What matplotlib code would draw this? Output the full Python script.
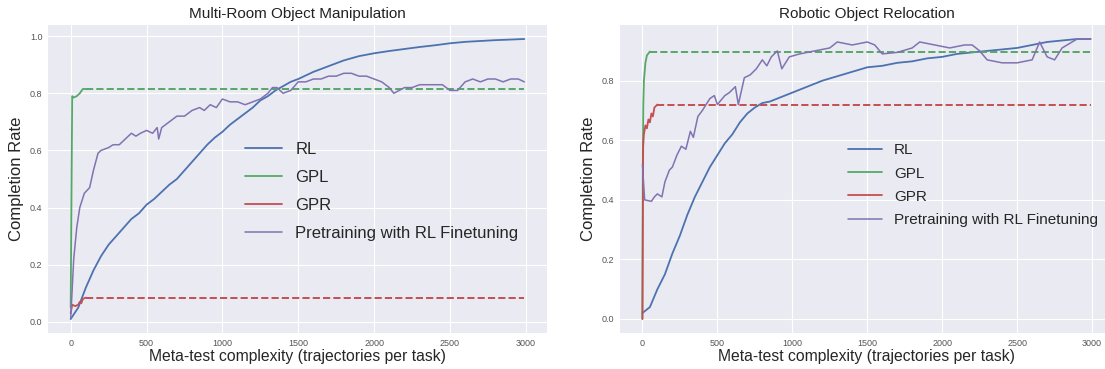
import matplotlib
matplotlib.use("Agg")
import matplotlib.pyplot as plt

plt.style.use("seaborn-v0_8-darkgrid")
plt.rcParams['font.family'] = ['Liberation Sans', 'DejaVu Sans']

# --- Multi-Room Object Manipulation ---
mr_rl_x = [0, 50, 100, 150, 200, 250, 300, 350, 400, 450, 500, 550, 600, 650, 700, 750, 800, 850, 900,
           950, 1000, 1050, 1100, 1150, 1200, 1250, 1300, 1350, 1400, 1450, 1500, 1600, 1700, 1800,
           1900, 2000, 2100, 2200, 2300, 2400, 2500, 2600, 2700, 2800, 2900, 2990]
mr_rl_y = [0.01, 0.05, 0.12, 0.18, 0.23, 0.27, 0.30, 0.33, 0.36, 0.38, 0.41, 0.43, 0.455, 0.48, 0.50,
           0.53, 0.56, 0.59, 0.62, 0.645, 0.665, 0.69, 0.71, 0.73, 0.75, 0.775, 0.79, 0.81, 0.825, 0.84,
           0.85, 0.875, 0.895, 0.915, 0.93, 0.94, 0.948, 0.955, 0.962, 0.968, 0.975, 0.98, 0.983, 0.986,
           0.988, 0.99]

mr_pre_x = [0, 20, 40, 60, 90, 125, 150, 180, 200, 250, 280, 320, 360, 400, 430, 460, 500, 540, 570,
            580, 600, 650, 700, 750, 800, 850, 880, 920, 960, 1000, 1050, 1100, 1150, 1200, 1250,
            1300, 1330, 1360, 1400, 1450, 1500, 1550, 1600, 1650, 1700, 1750, 1800, 1850, 1900,
            1950, 2000, 2050, 2100, 2130, 2200, 2250, 2300, 2350, 2400, 2450, 2500, 2550, 2600,
            2650, 2700, 2750, 2800, 2850, 2900, 2950, 2990]
mr_pre_y = [0.01, 0.22, 0.33, 0.40, 0.45, 0.47, 0.53, 0.59, 0.60, 0.61, 0.62, 0.62, 0.64, 0.66, 0.65,
            0.66, 0.67, 0.66, 0.68, 0.64, 0.68, 0.70, 0.72, 0.72, 0.74, 0.75, 0.74, 0.76, 0.75, 0.78,
            0.77, 0.77, 0.76, 0.77, 0.78, 0.80, 0.82, 0.82, 0.80, 0.81, 0.84, 0.84, 0.85, 0.85, 0.86,
            0.86, 0.87, 0.87, 0.86, 0.86, 0.85, 0.84, 0.82, 0.80, 0.82, 0.82, 0.83, 0.83, 0.83, 0.83,
            0.81, 0.81, 0.84, 0.85, 0.84, 0.85, 0.85, 0.84, 0.85, 0.85, 0.84]

mr_gpl_x = [0, 10, 20, 40, 60, 80, 100]
mr_gpl_y = [0.05, 0.79, 0.785, 0.79, 0.80, 0.815, 0.815]
mr_gpr_x = [0, 10, 30, 50, 60, 70, 80, 100]
mr_gpr_y = [0.03, 0.06, 0.055, 0.06, 0.07, 0.065, 0.08, 0.085]

# --- Robotic Object Relocation ---
ro_rl_x = [0, 50, 100, 150, 200, 250, 300, 350, 400, 450, 500, 550, 600, 650, 700, 750, 800, 850,
           900, 950, 1000, 1100, 1200, 1300, 1400, 1500, 1600, 1700, 1800, 1900, 2000, 2100, 2200,
           2300, 2400, 2500, 2600, 2700, 2800, 2900, 2990]
ro_rl_y = [0.02, 0.04, 0.10, 0.15, 0.22, 0.28, 0.35, 0.41, 0.46, 0.51, 0.55, 0.59, 0.62, 0.66, 0.69,
           0.71, 0.725, 0.73, 0.74, 0.75, 0.76, 0.78, 0.80, 0.815, 0.83, 0.845, 0.85, 0.86, 0.865,
           0.875, 0.88, 0.89, 0.895, 0.90, 0.905, 0.91, 0.92, 0.93, 0.935, 0.94, 0.94]

ro_pre_x = [0, 15, 60, 80, 100, 130, 150, 180, 200, 230, 260, 290, 320, 340, 370, 400, 450, 480,
            500, 550, 580, 620, 640, 680, 720, 760, 800, 830, 860, 900, 930, 980, 1050, 1150, 1250,
            1300, 1400, 1500, 1550, 1600, 1700, 1800, 1850, 1950, 2050, 2150, 2200, 2250, 2300,
            2400, 2500, 2600, 2650, 2700, 2750, 2800, 2900, 2990]
ro_pre_y = [0.52, 0.40, 0.395, 0.41, 0.42, 0.41, 0.46, 0.50, 0.51, 0.55, 0.58, 0.57, 0.63, 0.61,
            0.68, 0.70, 0.74, 0.75, 0.72, 0.75, 0.76, 0.78, 0.72, 0.81, 0.82, 0.84, 0.87, 0.85, 0.88,
            0.90, 0.84, 0.88, 0.89, 0.90, 0.91, 0.93, 0.92, 0.93, 0.92, 0.89, 0.895, 0.91, 0.93,
            0.92, 0.91, 0.92, 0.92, 0.90, 0.87, 0.86, 0.86, 0.87, 0.93, 0.88, 0.87, 0.91, 0.94, 0.94]

ro_gpl_x = [0, 3, 6, 10, 20, 30, 50]
ro_gpl_y = [0.0, 0.55, 0.72, 0.80, 0.86, 0.885, 0.898]
ro_gpr_x = [0, 5, 10, 20, 30, 40, 50, 60, 70, 80, 100]
ro_gpr_y = [0.0, 0.58, 0.62, 0.65, 0.64, 0.67, 0.66, 0.69, 0.68, 0.71, 0.72]

x_max = 2990
blue, green, red, purple = "#4C72B0", "#55A868", "#C44E52", "#8172B2"


def draw(ax, title, rl, pre, gpl, gpr, leg_size, leg_anchor, leg_space):
    ax.plot(rl[0], rl[1], color=blue, lw=1.3, label="RL")
    ax.plot(gpl[0], gpl[1], color=green, lw=1.3, label="GPL")
    ax.plot([gpl[0][-1], x_max], [gpl[1][-1]] * 2, color=green, lw=1.4, ls="--")
    ax.plot(gpr[0], gpr[1], color=red, lw=1.3, label="GPR")
    ax.plot([gpr[0][-1], x_max], [gpr[1][-1]] * 2, color=red, lw=1.4, ls="--")
    ax.plot(pre[0], pre[1], color=purple, lw=1.1, label="Pretraining with RL Finetuning")
    ax.set_title(title, fontsize=11, color="#222222", pad=5)
    ax.set_xlabel("Meta-test complexity (trajectories per task)", fontsize=11.3, labelpad=1)
    ax.set_ylabel("Completion Rate", fontsize=12)
    ax.set_xticks([0, 500, 1000, 1500, 2000, 2500, 3000])
    ax.tick_params(labelsize=6.5, colors="#555555", pad=4)
    ax.legend(loc="center left", bbox_to_anchor=leg_anchor, fontsize=leg_size,
              frameon=False, labelspacing=leg_space, handlelength=2.2)


fig = plt.figure(figsize=(11.05, 3.69), dpi=100)
ax1 = fig.add_axes([48 / 1105, 36 / 369, 499 / 1105, 308 / 369])
ax2 = fig.add_axes([620 / 1105, 36 / 369, 493 / 1105, 308 / 369])

draw(ax1, "Multi-Room Object Manipulation", (mr_rl_x, mr_rl_y), (mr_pre_x, mr_pre_y),
     (mr_gpl_x, mr_gpl_y), (mr_gpr_x, mr_gpr_y), 12, (0.365, 0.46), 0.78)
ax1.set_yticks([0.0, 0.2, 0.4, 0.6, 0.8, 1.0])

draw(ax2, "Robotic Object Relocation", (ro_rl_x, ro_rl_y), (ro_pre_x, ro_pre_y),
     (ro_gpl_x, ro_gpl_y), (ro_gpr_x, ro_gpr_y), 11, (0.435, 0.48), 0.6)
ax2.set_yticks([0.0, 0.2, 0.4, 0.6, 0.8])

fig.savefig("out.png", dpi=100)
